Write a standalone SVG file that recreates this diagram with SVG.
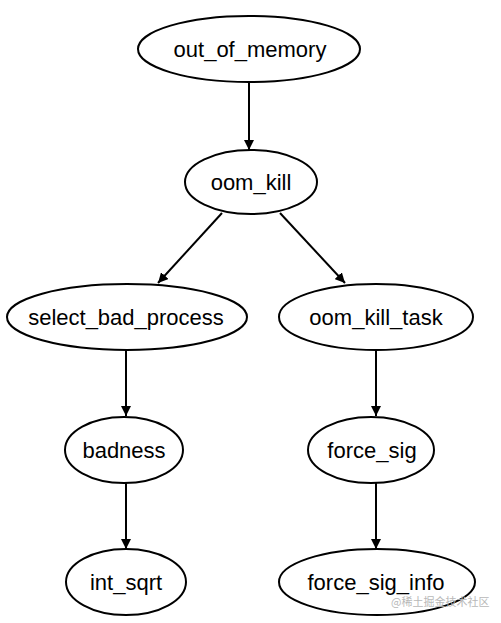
<svg xmlns="http://www.w3.org/2000/svg" width="501" height="623" viewBox="0 0 501 623">
<style>
.n ellipse{fill:#fff;stroke:#000;stroke-width:2}
.n text{font-family:"Liberation Sans",Arial,sans-serif;font-size:22px;fill:#000;text-anchor:middle}
.e line{stroke:#000;stroke-width:2}
.wm{font-family:"Noto Sans CJK SC",sans-serif;font-size:11px;fill:#b8b8b8}
</style>
<defs>
<marker id="ah" viewBox="0 0 10 10" refX="10" refY="5" markerWidth="5" markerHeight="5" orient="auto" markerUnits="strokeWidth">
<path d="M0,0 L10,5 L0,10 z" fill="#000"/>
</marker>
</defs>
<rect width="501" height="623" fill="#fff"/>
<g id="connectors" class="e">
<line x1="249" y1="82" x2="249" y2="150" marker-end="url(#ah)"/>
<line x1="222" y1="213" x2="158" y2="283" marker-end="url(#ah)"/>
<line x1="280" y1="213" x2="345" y2="283" marker-end="url(#ah)"/>
<line x1="126" y1="350" x2="126" y2="416" marker-end="url(#ah)"/>
<line x1="376" y1="350" x2="376" y2="416" marker-end="url(#ah)"/>
<line x1="126" y1="483" x2="126" y2="549" marker-end="url(#ah)"/>
<line x1="376" y1="483" x2="376" y2="549" marker-end="url(#ah)"/>
</g>
<g id="out_of_memory" class="n"><ellipse cx="249" cy="49" rx="111" ry="33"/><text x="250" y="57">out_of_memory</text></g>
<g id="oom_kill" class="n"><ellipse cx="251" cy="182" rx="66" ry="32"/><text x="251" y="190">oom_kill</text></g>
<g id="select_bad_process" class="n"><ellipse cx="127" cy="317" rx="120" ry="33"/><text x="126" y="325">select_bad_process</text></g>
<g id="oom_kill_task" class="n"><ellipse cx="376" cy="317" rx="97" ry="33"/><text x="376" y="325">oom_kill_task</text></g>
<g id="badness" class="n"><ellipse cx="124" cy="450" rx="59" ry="33"/><text x="124" y="458">badness</text></g>
<g id="force_sig" class="n"><ellipse cx="371" cy="450" rx="63" ry="33"/><text x="372" y="458">force_sig</text></g>
<g id="int_sqrt" class="n"><ellipse cx="126" cy="582" rx="60" ry="33"/><text x="126" y="590">int_sqrt</text></g>
<g id="force_sig_info" class="n"><ellipse cx="377" cy="582" rx="98" ry="33"/><text x="376" y="590">force_sig_info</text></g>
<text class="wm" x="391" y="606">@稀土掘金技术社区</text>
</svg>
